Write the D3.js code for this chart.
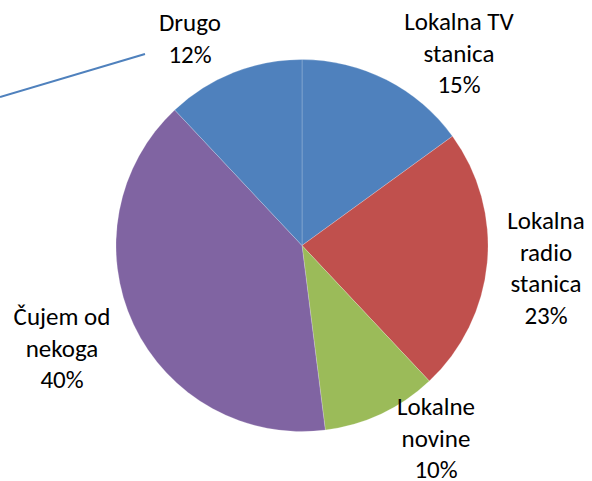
<!DOCTYPE html>
<html lang="hr">
  <head>
    <meta charset="utf-8" />
    <title>Izvori informacija</title>
    <style>
      body {
        margin: 0;
        background: #fff;
      }
      svg {
        display: block;
      }
      .label {
        font-family: Calibri, Carlito, Lato, sans-serif;
        font-size: 25px;
        fill: #000;
      }
    </style>
  </head>
  <body>
    <svg></svg>
    <script src="https://d3js.org/d3.v7.min.js"></script>
    <script>
      // data, clockwise from 12 o'clock
      const categories = [
        "Lokalna TV stanica",
        "Lokalna radio stanica",
        "Lokalne novine",
        "Čujem od nekoga",
        "Drugo",
      ];
      const values = [15, 23, 10, 40, 12];
      // how the labels wrap in the original
      const labelLines = [
        ["Lokalna TV", "stanica"],
        ["Lokalna", "radio", "stanica"],
        ["Lokalne", "novine"],
        ["Čujem od", "nekoga"],
        ["Drugo"],
      ];
      const sliceColors = ["#4F81BD", "#C0504D", "#9BBB59", "#8064A2", "#4F81BD"];

      const width = 592;
      const height = 481;
      const cx = 302;
      const cy = 245.5;
      const radius = 186;
      const lineHeight = 31.5;

      // label anchor (centre x, first baseline y) for each slice
      const labelPos = [
        [459, 30],
        [546, 229],
        [436, 415],
        [62, 325],
        [190, 31],
      ];

      const svg = d3.select("svg").attr("width", width).attr("height", height);

      const pie = d3.pie().value((d) => d).sort(null);
      const arc = d3.arc().innerRadius(0).outerRadius(radius);
      const arcs = pie(values);

      const g = svg.append("g").attr("transform", `translate(${cx},${cy})`);

      g.selectAll("path")
        .data(arcs)
        .join("path")
        .attr("d", arc)
        .attr("fill", (d, i) => sliceColors[i])
        .attr("stroke", "rgba(255,255,255,0.2)")
        .attr("stroke-width", 1);

      // stray leader line next to "Drugo"
      svg
        .append("line")
        .attr("x1", 0)
        .attr("y1", 97)
        .attr("x2", 145)
        .attr("y2", 54)
        .attr("stroke", "#4F81BD")
        .attr("stroke-width", 2);

      const labels = svg
        .selectAll("text.label")
        .data(arcs)
        .join("text")
        .attr("class", "label")
        .attr("text-anchor", "middle")
        .attr("x", (d, i) => labelPos[i][0])
        .attr("y", (d, i) => labelPos[i][1]);

      labels.each(function (d, i) {
        const t = d3.select(this);
        const lines = labelLines[i].concat([values[i] + "%"]);
        lines.forEach((s, j) => {
          t.append("tspan")
            .attr("x", labelPos[i][0])
            .attr("dy", j === 0 ? 0 : lineHeight)
            .text(s);
        });
      });
    </script>
  </body>
</html>
